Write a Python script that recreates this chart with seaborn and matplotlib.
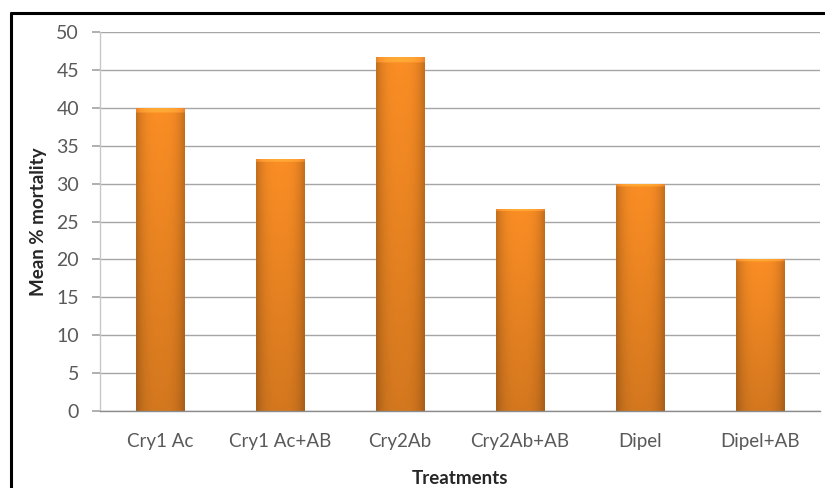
import numpy as np
import pandas as pd
import matplotlib
matplotlib.use("Agg")
import matplotlib.pyplot as plt
from matplotlib.lines import Line2D
import seaborn as sns

treatments = ["Cry1 Ac", "Cry1 Ac+AB", "Cry2Ab", "Cry2Ab+AB", "Dipel", "Dipel+AB"]
mortality = [40.0, 33.3, 46.7, 26.7, 30.0, 20.0]
y_ticks = [0, 5, 10, 15, 20, 25, 30, 35, 40, 45, 50]

df = pd.DataFrame({"Treatments": treatments, "Mortality": mortality})

sns.set_theme(style="white")
plt.rcParams["font.family"] = ["Lato", "DejaVu Sans"]

fig = plt.figure(figsize=(8.25, 4.88), dpi=100)
ax = fig.add_axes([0.121, 0.158, 0.873, 0.776])

sns.barplot(data=df, x="Treatments", y="Mortality", color="#f68a20",
            width=0.4, ax=ax, edgecolor="none", linewidth=0)

# shaded fill for each bar: darker sides, lighter top
h, w = 200, 60
xs = np.linspace(-1, 1, w)
ys = np.linspace(0, 1, h)[:, None]
side = 1 - 0.22 * np.abs(xs) ** 3
vert = 0.86 + 0.16 * ys
base = np.array([0.965, 0.545, 0.14])
img = np.clip(base[None, None, :] * (side[None, :, None] * vert[:, :, None]), 0, 1)
img[-3:, :, :] = np.clip(img[-3:, :, :] * 1.1 + 0.05, 0, 1)
for p in ax.patches:
    x0, y0 = p.get_x(), p.get_y()
    pw, ph = p.get_width(), p.get_height()
    im = ax.imshow(img, extent=[x0, x0 + pw, y0, y0 + ph], origin="lower",
                   aspect="auto", zorder=p.get_zorder() + 0.1, interpolation="bilinear")
    im.set_clip_path(p)

ax.set_xlim(-0.5, len(treatments) - 0.5)
ax.set_ylim(0, 50)
ax.set_yticks(y_ticks)
ax.yaxis.grid(True, color="#a6a6a6", linewidth=1.0)
ax.set_axisbelow(True)

for s in ["top", "right"]:
    ax.spines[s].set_visible(False)
ax.spines["left"].set_color("#c8c8c8")
ax.spines["bottom"].set_color("#8c8c8c")
ax.spines["left"].set_linewidth(1.0)
ax.spines["bottom"].set_linewidth(1.0)

ax.tick_params(axis="y", which="both", left=True, length=6, color="#a6a6a6",
               labelsize=14, labelcolor="#595959", pad=9)
ax.tick_params(axis="x", bottom=False, labelsize=13.5, labelcolor="#595959", pad=10)

ax.set_xlabel("Treatments", fontsize=13.5, fontweight="bold", color="#262626", labelpad=14)
ax.set_ylabel("Mean % mortality", fontsize=13.5, fontweight="bold", color="#262626", labelpad=7)

# outer frame (top and left edges)
fig.add_artist(Line2D([11 / 825, 11 / 825], [0, 1 - 13 / 488], transform=fig.transFigure,
                      color="black", linewidth=2.2))
fig.add_artist(Line2D([11 / 825, 1], [1 - 13 / 488, 1 - 13 / 488], transform=fig.transFigure,
                      color="black", linewidth=2.2))

fig.savefig("out.png", dpi=100, facecolor="white")
